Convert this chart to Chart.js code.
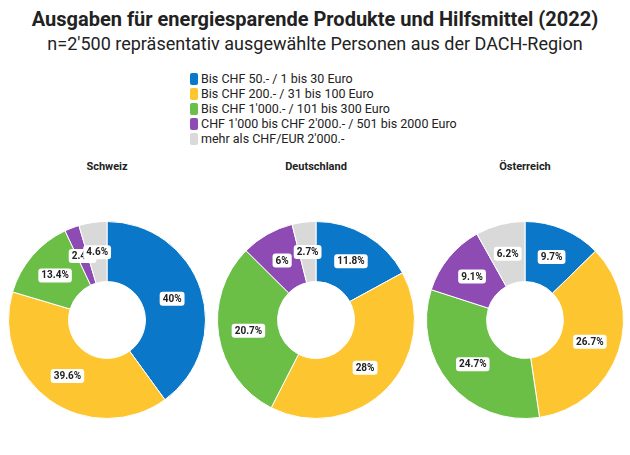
<!DOCTYPE html>
<html><head><meta charset="utf-8">
<script src="https://cdn.jsdelivr.net/npm/chart.js@4"></script>
<style>
body{margin:0;width:630px;height:455px;background:#fff;font-family:Roboto,sans-serif;position:relative;overflow:hidden}
#t1{position:absolute;top:7px;width:100%;text-align:center;font-size:20px;font-weight:bold;color:#222}
#t2{position:absolute;top:33px;width:100%;text-align:center;font-size:18px;color:#222}
#legend{position:absolute;left:190px;top:71px;font-size:12.5px;color:#222;line-height:15px}
#legend span{display:inline-block;width:8px;height:12px;border-radius:2px;margin-right:3px;vertical-align:-2px}
.sub{position:absolute;top:160px;width:210px;text-align:center;font-size:11px;font-weight:bold;color:#222}
canvas{position:absolute}
</style></head><body>
<div id="t1">Ausgaben für energiesparende Produkte und Hilfsmittel (2022)</div>
<div id="t2">n=2'500 repräsentativ ausgewählte Personen aus der DACH-Region</div>
<div id="legend"></div>
<script>
const categories = ['Bis CHF 50.- / 1 bis 30 Euro','Bis CHF 200.- / 31 bis 100 Euro','Bis CHF 1\'000.- / 101 bis 300 Euro','CHF 1\'000 bis CHF 2\'000.- / 501 bis 2000 Euro','mehr als CHF/EUR 2\'000.-'];
const colors = ['#0a77c8','#fdc631','#6bbf47','#8e4bb4','#d9d9d9'];
const countries = ['Schweiz','Deutschland','Österreich'];
const schweiz = [40, 39.6, 13.4, 2.4, 4.6];
const deutschland = [11.8, 28, 20.7, 6, 2.7];
const oesterreich = [9.7, 26.7, 24.7, 9.1, 6.2];
const series = [schweiz, deutschland, oesterreich];
const centersX = [107, 316, 525];

document.getElementById('legend').innerHTML = categories.map((c,i)=>
  `<div><span style="background:${colors[i]}"></span>${c}</div>`).join('');

const labelPlugin = {
  id:'labels',
  afterDatasetsDraw(chart){
    const ctx = chart.ctx;
    const meta = chart.getDatasetMeta(0);
    const data = chart.data.datasets[0].data;
    ctx.save();
    ctx.font = 'bold 10px Roboto';
    ctx.textAlign='center'; ctx.textBaseline='middle';
    meta.data.forEach((arc,i)=>{
      const a = (arc.startAngle+arc.endAngle)/2;
      const r = (arc.innerRadius+arc.outerRadius)/2;
      const x = arc.x+Math.cos(a)*r, y = arc.y+Math.sin(a)*r;
      const txt = data[i]+'%';
      const w = ctx.measureText(txt).width+6;
      ctx.fillStyle='#fff';
      ctx.beginPath(); ctx.roundRect(x-w/2,y-7,w,14,3); ctx.fill();
      ctx.fillStyle='#222';
      ctx.fillText(txt,x,y+0.5);
    });
    ctx.restore();
  }
};

series.forEach((vals,k)=>{
  const sub=document.createElement('div');
  sub.className='sub'; sub.style.left=(centersX[k]-105)+'px'; sub.textContent=countries[k];
  document.body.appendChild(sub);
  const cv=document.createElement('canvas');
  cv.width=198;cv.height=198;
  cv.style.left=(centersX[k]-99)+'px'; cv.style.top='221px';
  cv.style.width='198px'; cv.style.height='198px';
  document.body.appendChild(cv);
  new Chart(cv,{
    type:'doughnut',
    data:{labels:categories,datasets:[{data:vals,backgroundColor:colors,borderColor:'#fff',borderWidth:1}]},
    options:{responsive:false,animation:false,cutout:'39%',layout:{padding:0},
      plugins:{legend:{display:false},tooltip:{enabled:false}}},
    plugins:[labelPlugin]
  });
});
</script>
</body></html>
